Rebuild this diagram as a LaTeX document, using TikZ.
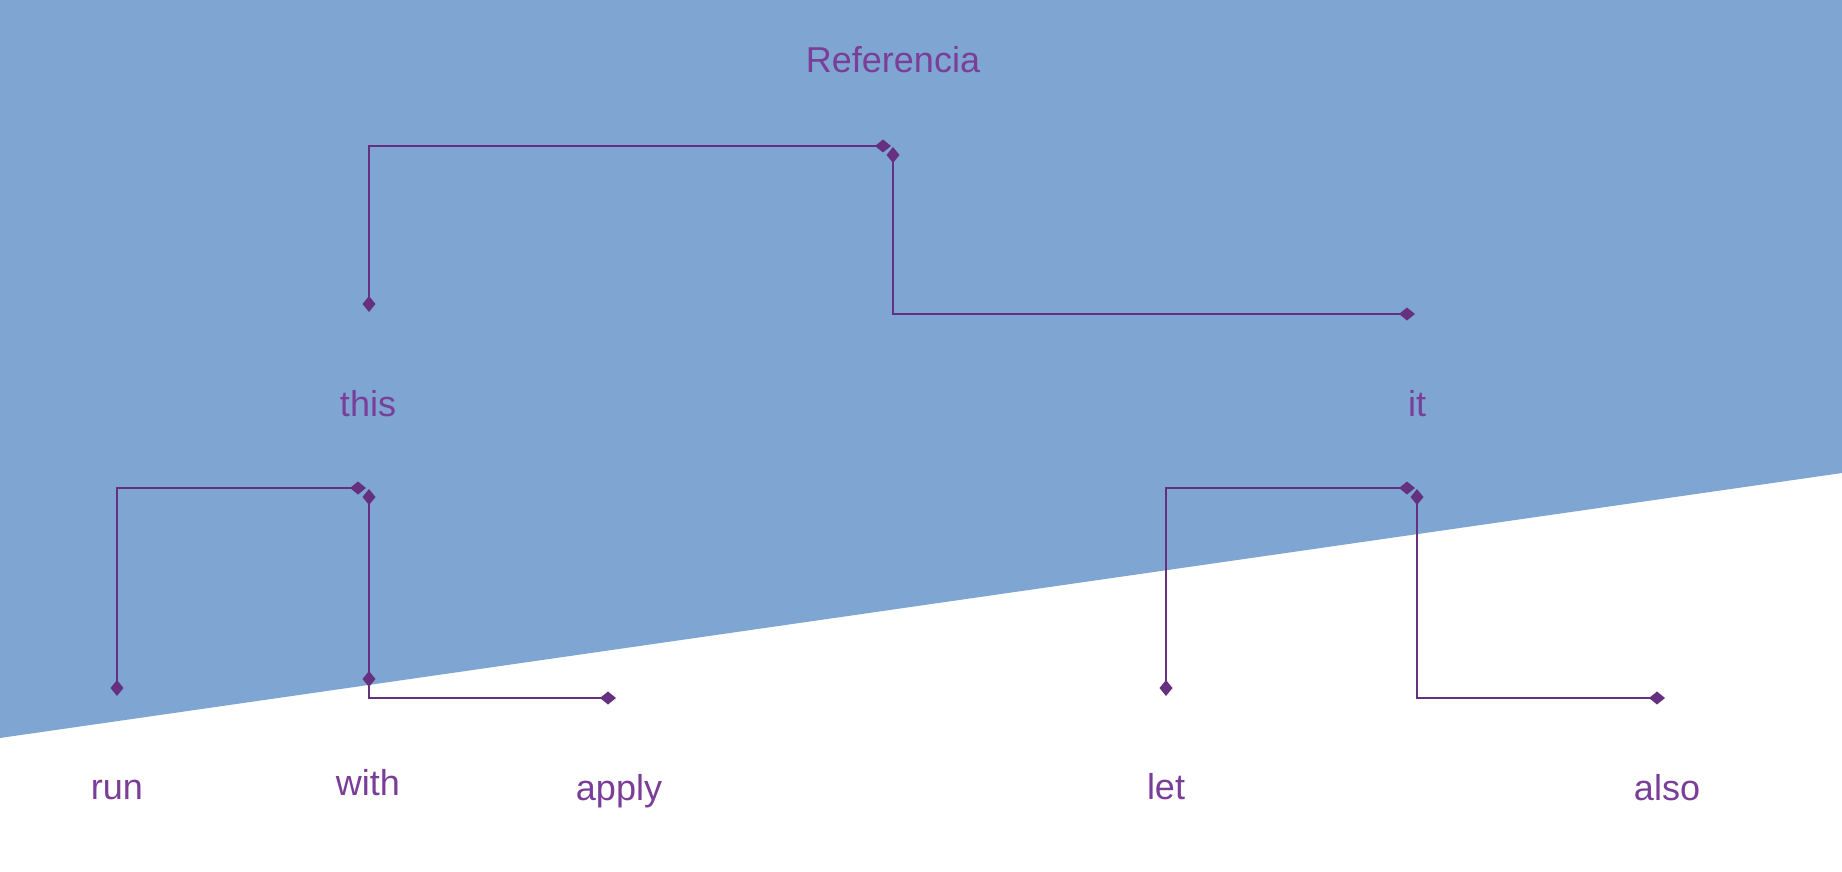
\documentclass[tikz,border=0pt]{standalone}
\usepackage{fontspec}
\setmainfont{Liberation Sans}
\usetikzlibrary{arrows.meta,calc}
\definecolor{bgblue}{HTML}{7FA6D2}
\definecolor{txtpurple}{HTML}{7A3E98}
\definecolor{linepurple}{HTML}{65307F}
\tikzset{
  lbl/.style={text=txtpurple, font=\fontsize{36}{40}\selectfont, anchor=base, inner sep=0pt},
  conn/.style={draw=linepurple, line width=2.6pt,
    {Diamond[length=16pt,width=13pt]}-{Diamond[length=16pt,width=13pt]},
    shorten <=-8pt, shorten >=-8pt},
  thin conn/.style={conn, line width=2pt}
}
\begin{document}
\begin{tikzpicture}[x=1pt,y=-1pt]
\useasboundingbox (0,0) rectangle (1842,872);
\fill[white] (0,0) rectangle (1842,872);
\fill[bgblue] (0,0) -- (1842,0) -- (1842,473) -- (0,738) -- cycle;

% labels
\node[lbl] (ref) at (893,73) {Referencia};
\node[lbl] (this) at (368,416) {this};
\node[lbl] (it) at (1417,416) {it};
\node[lbl] (run) at (117,799) {run};
\node[lbl] (with) at (368,795) {with};
\node[lbl] (apply) at (619,800) {apply};
\node[lbl] (let) at (1166,799) {let};
\node[lbl] (also) at (1667,800) {also};

% connector end points
\coordinate (t1) at (369,304);
\coordinate (t2) at (883,146);
\coordinate (t3) at (893,155);
\coordinate (t4) at (1407,314);
\coordinate (l1) at (117,688);
\coordinate (l2) at (358,488);
\coordinate (l3) at (369,497);
\coordinate (l4) at (608,698);
\coordinate (lm) at (369,679);
\coordinate (r1) at (1166,688);
\coordinate (r2) at (1407,488);
\coordinate (r3) at (1417,497);
\coordinate (r4) at (1657,698);

% top bracket
\draw[conn] (t1) |- (t2);
\draw[conn] (t3) |- (t4);
% lower left bracket
\draw[thin conn] (l1) |- (l2);
\draw[thin conn] (l3) |- (l4);
\fill[linepurple] ($(lm)+(0,-8)$) -- ($(lm)+(6.5,0)$) -- ($(lm)+(0,8)$) -- ($(lm)+(-6.5,0)$) -- cycle;
% lower right bracket
\draw[thin conn] (r1) |- (r2);
\draw[thin conn] (r3) |- (r4);
\end{tikzpicture}
\end{document}
